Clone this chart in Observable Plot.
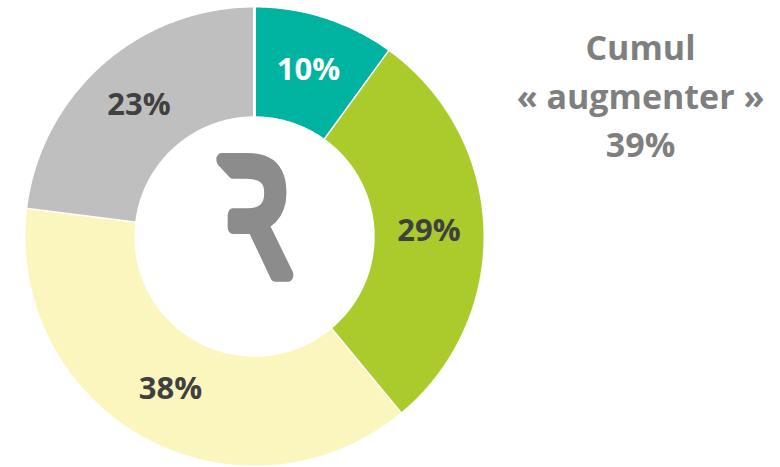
<!DOCTYPE html>
<html><head><meta charset="utf-8">
<script src="https://cdn.jsdelivr.net/npm/d3@7"></script>
<script src="https://cdn.jsdelivr.net/npm/@observablehq/plot@0.6"></script>
<style>
body{margin:0;background:#fff} svg{display:block}
.logo{transform-box:fill-box;transform-origin:center;transform:translate(-2px,-12px) scale(0.74,0.95)}
</style>
</head><body><div id="chart"></div>
<script>
const labels = ["10%", "29%", "38%", "23%"];
const shares = [10, 29, 38, 23];
const colors = ["#00B2A0", "#ABCB2D", "#FAF6BE", "#BFBFBF"];
const labelColors = ["#ffffff", "#404040", "#404040", "#404040"];
const annotation = ["Cumul", "« augmenter »", "39%"];
const logo = "Ꝛ";

const innerRatio = 0.515;
const arcs = d3.pie().sort(null).value(d => d)(shares);

const ring = [];
arcs.forEach((a, i) => {
  const n = Math.max(2, Math.ceil((a.endAngle - a.startAngle) / (Math.PI / 360)));
  for (let k = 0; k <= n; k++) {
    const t = a.startAngle + (a.endAngle - a.startAngle) * k / n;
    ring.push({slice: labels[i], x: Math.sin(t), y: Math.cos(t)});
  }
  for (let k = n; k >= 0; k--) {
    const t = a.startAngle + (a.endAngle - a.startAngle) * k / n;
    ring.push({slice: labels[i], x: innerRatio * Math.sin(t), y: innerRatio * Math.cos(t)});
  }
});

const labelPts = arcs.map((a, i) => {
  const t = (a.startAngle + a.endAngle) / 2, r = (1 + innerRatio) / 2;
  return {label: labels[i], color: labelColors[i], x: r * Math.sin(t), y: r * Math.cos(t)};
});

const cx = 254, cy = 236, R = 230.5;
const chart = Plot.plot({
  width: 780, height: 467,
  margin: 0,
  x: {domain: [-1, 1], range: [cx - R, cx + R], axis: null},
  y: {domain: [-1, 1], range: [cy + R, cy - R], axis: null},
  color: {domain: labels, range: colors},
  style: {fontFamily: "'Open Sans', sans-serif", background: "#fff"},
  marks: [
    Plot.line(ring, {x: "x", y: "y", z: "slice", fill: "slice", stroke: "#fff", strokeWidth: 3, strokeLinejoin: "miter"}),
    Plot.text(labelPts, {x: "x", y: "y", text: "label", fill: "color", fontSize: 31, fontWeight: "bold"}),
    Plot.text([logo], {x: () => 0, y: () => 0, text: d => d, className: "logo", fill: "#8C8C8C", stroke: "#8C8C8C", strokeWidth: 9, strokeLinejoin: "round", fontSize: 170, fontWeight: "bold", fontFamily: "'DejaVu Sans Condensed', 'DejaVu Sans'"}),
    Plot.text([annotation.join("\n")], {frameAnchor: "top-right", dx: -140, dy: 25, text: d => d, textAnchor: "middle", lineAnchor: "top", lineHeight: 1.43, fill: "#7F7F7F", fontSize: 34, fontWeight: "bold"})
  ]
});
document.getElementById("chart").append(chart);
</script>
</body></html>
